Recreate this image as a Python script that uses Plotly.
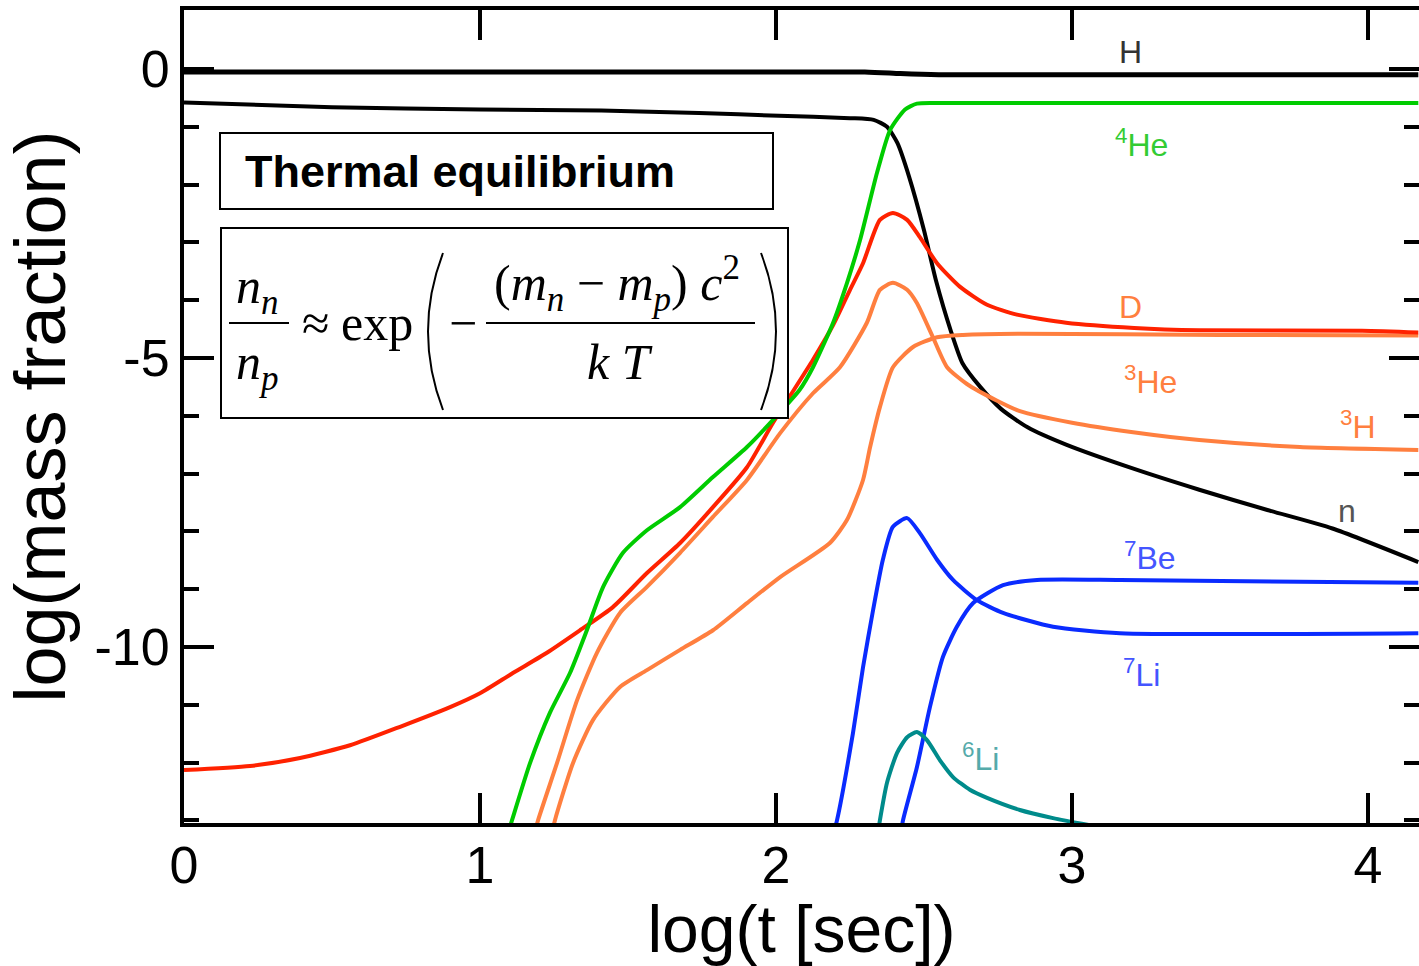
import plotly.graph_objects as go

# ---------------- data (log t [sec], log mass fraction) ----------------
h_x = [0.0, 2.30, 2.42, 2.55, 4.17]
h_y = [-0.05, -0.05, -0.08, -0.10, -0.10]

n_x = [0.0, 0.5, 1.0, 1.41, 1.74, 2.01, 2.25, 2.33, 2.375, 2.41, 2.45, 2.50, 2.54,
       2.59, 2.63, 2.69, 2.76, 2.85, 2.98, 3.21, 3.43, 3.66, 3.88, 4.17]
n_y = [-0.58, -0.66, -0.70, -0.72, -0.76, -0.81, -0.85, -0.88, -1.0, -1.28, -1.87,
       -2.79, -3.65, -4.52, -5.09, -5.50, -5.88, -6.20, -6.50, -6.92, -7.28, -7.63,
       -7.95, -8.53]

he4_x = [1.09, 1.108, 1.169, 1.236, 1.304, 1.361, 1.416, 1.483, 1.564, 1.676, 1.787,
         1.902, 1.99, 2.08, 2.125, 2.193, 2.24, 2.284, 2.341, 2.385, 2.436, 2.476,
         2.55, 4.17]
he4_y = [-13.3, -13.0, -12.01, -11.14, -10.45, -9.71, -8.96, -8.37, -7.98, -7.58,
         -7.06, -6.54, -6.07, -5.55, -5.16, -4.39, -3.70, -2.96, -1.80, -1.06, -0.70,
         -0.60, -0.59, -0.59]

d_x = [0.0, 0.223, 0.392, 0.561, 0.73, 0.899, 1.0, 1.111, 1.226, 1.338, 1.449, 1.564,
       1.676, 1.787, 1.902, 1.99, 2.125, 2.193, 2.25, 2.294, 2.351, 2.395, 2.443,
       2.486, 2.544, 2.622, 2.713, 2.814, 2.98, 3.21, 3.43, 3.98, 4.17]
d_y = [-12.13, -12.06, -11.92, -11.70, -11.38, -11.04, -10.80, -10.45, -10.10, -9.71,
       -9.31, -8.72, -8.20, -7.58, -6.89, -6.12, -5.03, -4.43, -3.82, -3.36, -2.61,
       -2.49, -2.61, -2.91, -3.36, -3.77, -4.08, -4.25, -4.39, -4.48, -4.52, -4.53,
       -4.56]

h3_x = [1.18, 1.196, 1.26, 1.328, 1.395, 1.473, 1.564, 1.676, 1.787, 1.902, 2.014,
        2.125, 2.216, 2.307, 2.351, 2.395, 2.443, 2.476, 2.53, 2.578, 2.645, 2.747,
        2.824, 3.0, 3.2, 3.43, 3.77, 4.17]
h3_y = [-13.3, -13.0, -12.01, -10.92, -10.10, -9.41, -8.96, -8.37, -7.75, -7.11,
        -6.30, -5.61, -5.16, -4.39, -3.82, -3.70, -3.82, -4.05, -4.64, -5.16, -5.45,
        -5.74, -5.92, -6.12, -6.28, -6.42, -6.54, -6.59]

he3_x = [1.24, 1.253, 1.314, 1.382, 1.473, 1.564, 1.676, 1.787, 1.902, 2.014, 2.182,
         2.24, 2.294, 2.318, 2.351, 2.395, 2.463, 2.544, 2.632, 2.824, 3.5, 4.17]
he3_y = [-13.3, -13.0, -12.01, -11.26, -10.69, -10.40, -10.05, -9.71, -9.24, -8.79,
         -8.20, -7.80, -7.11, -6.54, -5.85, -5.16, -4.81, -4.64, -4.60, -4.58, -4.60,
         -4.61]

li7_x = [2.19, 2.206, 2.26, 2.294, 2.328, 2.361, 2.395, 2.443, 2.486, 2.544, 2.598,
         2.679, 2.767, 2.936, 3.162, 4.17]
li7_y = [-13.3, -13.0, -11.49, -10.35, -9.36, -8.49, -7.92, -7.77, -8.03, -8.49,
         -8.84, -9.19, -9.41, -9.65, -9.76, -9.76]

be7_x = [2.42, 2.429, 2.476, 2.52, 2.564, 2.611, 2.666, 2.767, 2.882, 3.162, 4.17]
be7_y = [-13.3, -13.0, -12.08, -11.04, -10.17, -9.65, -9.24, -8.93, -8.84, -8.84, -8.89]

li6_x = [2.345, 2.351, 2.375, 2.409, 2.443, 2.476, 2.51, 2.554, 2.598, 2.655, 2.713,
         2.824, 2.936, 3.078]
li6_y = [-13.2, -13.0, -12.35, -11.83, -11.56, -11.47, -11.61, -11.96, -12.25, -12.47,
         -12.61, -12.82, -12.96, -13.1]

x_tickvals = [0, 1, 2, 3, 4]
x_ticktext = ["0", "1", "2", "3", "4"]
y_tickvals = [0, -5, -10]
y_ticktext = ["0", "-5", "-10"]
y_minor = [v for v in range(-13, 1) if v not in (0, -5, -10)]

# species label text, position (log t, log X), colour
label_text = ["H", "<sup>4</sup>He", "D", "<sup>3</sup>He", "<sup>3</sup>H", "n",
              "<sup>7</sup>Be", "<sup>7</sup>Li", "<sup>6</sup>Li"]
label_x = [3.196, 3.236, 3.196, 3.264, 3.966, 3.93, 3.264, 3.236, 2.69]
label_y = [0.29, -1.28, -4.12, -5.38, -6.16, -7.65, -8.43, -10.45, -11.9]
label_col = ["#333333", "#33CC33", "#FF7F3F", "#FF7F3F", "#FF7F3F", "#555555",
             "#4455FF", "#4455FF", "#55AAAA"]

# ---------------- figure ----------------
W, H = 1419, 966
ML, MR, MT, MB = 184, 0, 10, 143
PW, PH = W - ML - MR, H - MT - MB

def px(x):
    return (x - ML) / PW

def py(y):
    return (H - MB - y) / PH

fig = go.Figure()

series = [
    (h_x, h_y, "black", 5),
    (n_x, n_y, "black", 4),
    (he3_x, he3_y, "#FF7F3F", 4),
    (d_x, d_y, "#FF2200", 4),
    (h3_x, h3_y, "#FF7F3F", 4),
    (he4_x, he4_y, "#00CC00", 4),
    (li7_x, li7_y, "#0A2BFF", 4),
    (be7_x, be7_y, "#0A2BFF", 4),
    (li6_x, li6_y, "#008B8B", 4),
]
for xs, ys, col, w in series:
    fig.add_trace(go.Scatter(x=xs, y=ys, mode="lines",
                             line=dict(color=col, width=w, shape="spline", smoothing=0.6),
                             showlegend=False, hoverinfo="skip"))

# empty trace so that the right-hand tick axis is drawn
fig.add_trace(go.Scatter(x=[], y=[], yaxis="y2", mode="lines", showlegend=False,
                         hoverinfo="skip"))

for t, x, y, c in zip(label_text, label_x, label_y, label_col):
    fig.add_annotation(x=x, y=y, xref="x", yref="y", text=t, showarrow=False,
                       font=dict(family="Liberation Sans, Arial", size=32, color=c),
                       xanchor="center", yanchor="middle")

# boxes
fig.add_shape(type="rect", xref="paper", yref="paper", x0=px(220), x1=px(773),
              y0=py(209), y1=py(133), line=dict(color="black", width=2),
              fillcolor="white", layer="above")
fig.add_shape(type="rect", xref="paper", yref="paper", x0=px(221), x1=px(788),
              y0=py(418), y1=py(228), line=dict(color="black", width=2),
              fillcolor="white", layer="above")

fig.add_annotation(x=px(243), y=py(172), xref="paper", yref="paper",
                   text="<b>Thermal equilibrium</b>", showarrow=False,
                   xanchor="left", yanchor="middle",
                   font=dict(family="Liberation Sans, Arial", size=45, color="black"))

serif = "Liberation Serif, Times New Roman, serif"
FS = 50

def txt(x, y, s, size=FS, anchor="center"):
    fig.add_annotation(x=px(x), y=py(y), xref="paper", yref="paper", text=s,
                       showarrow=False, xanchor=anchor, yanchor="middle",
                       font=dict(family=serif, size=size, color="black"))

txt(257, 290, "<i>n</i><sub><i>n</i></sub>")
txt(257, 366, "<i>n</i><sub><i>p</i></sub>")
txt(315, 323, "≈")
txt(377, 323, "exp")
txt(463, 323, "−")
txt(617, 283, "(<i>m</i><sub><i>n</i></sub> − <i>m</i><sub><i>p</i></sub>) <i>c</i><sup>2</sup>")
txt(620, 362, "<i>k T</i>")

for x0, x1 in [(229, 289), (486, 755)]:
    fig.add_shape(type="line", xref="paper", yref="paper", x0=px(x0), x1=px(x1),
                  y0=py(323), y1=py(323), line=dict(color="black", width=2), layer="above")

def paren(xe, xm, y0, y1):
    c = 2 * xm - xe
    ym = (y0 + y1) / 2
    return "M {},{} Q {},{} {},{}".format(px(xe), py(y0), px(c), py(ym), px(xe), py(y1))

fig.add_shape(type="path", xref="paper", yref="paper", path=paren(443, 428, 253, 410),
              line=dict(color="black", width=2), layer="above")
fig.add_shape(type="path", xref="paper", yref="paper", path=paren(761, 776, 253, 410),
              line=dict(color="black", width=2), layer="above")

yr = [(69 - (H - MB)) / 57.8, (69 - MT) / 57.8]
axis_font = dict(family="Liberation Sans, Arial", size=52, color="black")
fig.update_layout(
    width=W, height=H,
    margin=dict(l=ML, r=MR, t=MT, b=MB, pad=0),
    paper_bgcolor="white", plot_bgcolor="white",
    xaxis=dict(range=[0, PW / 296.0], showgrid=False, zeroline=False,
               showline=True, linecolor="black", linewidth=4, mirror="ticks",
               ticks="inside", ticklen=30, tickwidth=4, tickcolor="black",
               tickmode="array", tickvals=x_tickvals, ticktext=x_ticktext,
               tickfont=axis_font, ticklabelstandoff=-6,
               title=dict(text="log(t [sec])", standoff=2,
                          font=dict(family="Liberation Sans, Arial", size=66, color="black"))),
    yaxis=dict(range=yr, showgrid=False,
               zeroline=False, showline=True, linecolor="black", linewidth=4,
               mirror=False, ticks="inside", ticklen=30, tickwidth=4,
               tickcolor="black", tickmode="array", tickvals=y_tickvals,
               ticktext=y_ticktext, tickfont=axis_font,
               minor=dict(tickmode="array", tickvals=y_minor, ticks="inside",
                          ticklen=15, tickwidth=4, tickcolor="black"),
               title=dict(text="log(mass fraction)", standoff=6,
                          font=dict(family="Liberation Sans, Arial", size=72, color="black"))),
    yaxis2=dict(range=yr, overlaying="y", side="right", anchor="x", showgrid=False,
                zeroline=False, showline=False, ticks="inside", ticklen=30, tickwidth=4,
                tickcolor="black", tickmode="array", tickvals=y_tickvals,
                showticklabels=False,
                minor=dict(tickmode="array", tickvals=y_minor, ticks="inside",
                           ticklen=15, tickwidth=4, tickcolor="black")),
)

fig.write_html("out.html", config={"displayModeBar": False},
               post_script="document.body.style.margin='0';document.body.style.overflow='hidden';")
